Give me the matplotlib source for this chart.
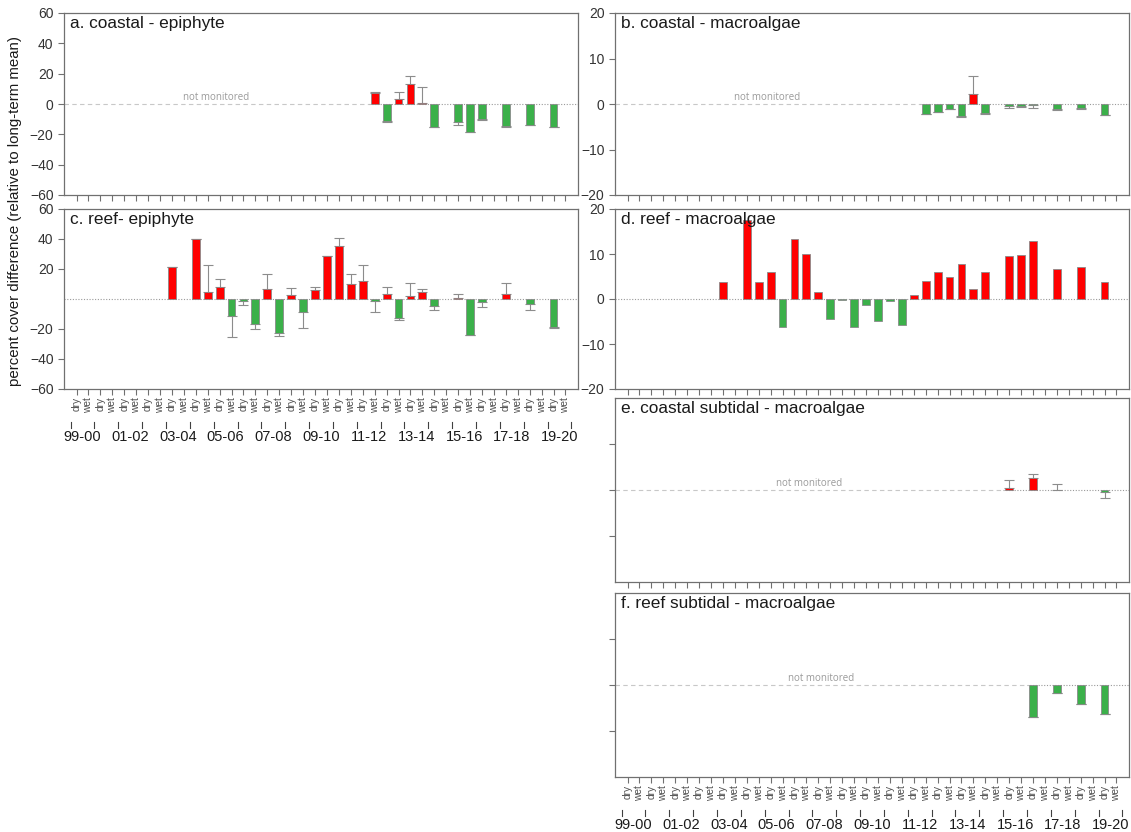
import matplotlib.pyplot as plt
import numpy as np

plt.rcParams['font.family'] = ['Liberation Sans', 'DejaVu Sans']

# categories: 21 years x (dry, wet)
years = ['99-00', '00-01', '01-02', '02-03', '03-04', '04-05', '05-06', '06-07',
         '07-08', '08-09', '09-10', '10-11', '11-12', '12-13', '13-14', '14-15',
         '15-16', '16-17', '17-18', '18-19', '19-20']
seasons = ['dry', 'wet'] * len(years)

# a. coastal - epiphyte
slots_a = [25, 26, 27, 28, 29, 30, 32, 33, 34, 36, 38, 40]
vals_a = [7.2, -11.4, 3.0, 13.3, 0.9, -14.9, -12.0, -18.4, -9.6, -14.7, -13.6, -15.0]
err_a = [0.5, 0.3, 4.6, 5.2, 10.0, 0.3, 1.6, 0.3, 1.1, 0.3, 0.3, 0.3]

# b. coastal - macroalgae
slots_b = [25, 26, 27, 28, 29, 30, 32, 33, 34, 36, 38, 40]
vals_b = [-2.2, -1.7, -1.0, -2.7, 2.25, -2.0, -0.5, -0.4, -0.2, -1.0, -0.9, -2.4]
err_b = [0.1, 0.1, 0.1, 0.1, 3.95, 0.1, 0.3, 0.2, 0.6, 0.4, 0.1, 0.1]

# c. reef - epiphyte
slots_c = [8, 10, 11, 12, 13, 14, 15, 16, 17, 18, 19, 20, 21, 22, 23, 24, 25, 26,
           27, 28, 29, 30, 32, 33, 34, 36, 38, 40]
vals_c = [21.5, 39.8, 4.7, 8.3, -11.4, -1.2, -16.8, 7.0, -22.6, 2.5, -8.5, 6.0,
          28.9, 35.2, 9.9, 11.9, -1.1, 3.6, -12.5, 1.8, 4.6, -4.6, 0.6, -23.7,
          -2.2, 3.6, -3.6, -18.4]
err_c = [0, 0, 17.7, 4.9, 13.6, 2.6, 3.5, 9.4, 1.8, 5.1, 11.0, 2.3, 0, 5.3, 6.7,
         10.9, 7.6, 4.4, 1.6, 9.2, 1.8, 2.7, 3.0, 0.3, 3.0, 7.4, 3.7, 1.2]

# d. reef - macroalgae
slots_d = [8, 10, 11, 12, 13, 14, 15, 16, 17, 18, 19, 20, 21, 22, 23, 24, 25, 26,
           27, 28, 29, 30, 32, 33, 34, 36, 38, 40]
vals_d = [3.7, 17.6, 3.7, 6.1, -6.3, 13.4, 10.1, 1.6, -4.4, -0.3, -6.3, -1.3,
          -4.8, -0.5, -5.7, 1.0, 4.1, 6.0, 4.9, 7.8, 2.3, 6.0, 9.5, 9.8, 13.0,
          6.7, 7.2, 3.8]

# e. coastal subtidal - macroalgae
slots_e = [32, 34, 36, 40]
vals_e = [0.4, 2.6, 0.1, -0.4]
err_e = [1.7, 0.8, 1.1, 1.3]

# f. reef subtidal - macroalgae
slots_f = [34, 36, 38, 40]
vals_f = [-6.9, -1.8, -4.1, -6.4]
err_f = [0, 0, 0, 0]

RED = '#FF0000'
GREEN = '#3BB04A'
SPINE = '#707070'
XLIM = (-1.05, 42.05)

W, H = 1131, 832
fig = plt.figure(figsize=(W / 100, H / 100), dpi=100)


def add_ax(x0, y0, x1, y1):
    ax = fig.add_axes([x0 / W, 1 - y1 / H, (x1 - x0) / W, (y1 - y0) / H])
    ax.hpx = y1 - y0
    return ax


def draw_panel(ax, title, slots, vals, errs, ylim, yticks, ylabels=True, start=None):
    colors = [RED if v > 0 else GREEN for v in vals]
    ax.bar(slots, vals, width=0.66, color=colors, edgecolor='#8a8a8a', linewidth=0.6, zorder=3)
    if errs is not None:
        lo = [e if v < 0 else 0 for v, e in zip(vals, errs)]
        hi = [e if v >= 0 else 0 for v, e in zip(vals, errs)]
        ax.errorbar(slots, vals, yerr=[lo, hi], fmt='none', ecolor='#8c8c8c',
                    elinewidth=0.8, capsize=3.5, capthick=0.8, zorder=2)
    dot = (0, (1, 1.5))
    if start is None:
        ax.plot(XLIM, [0, 0], ls=dot, color='#9a9a9a', lw=0.8, zorder=1)
    else:
        ax.plot([XLIM[0], start - 0.5], [0, 0], ls=(0, (4, 3)), color='#c8c8c8', lw=0.8, zorder=1)
        ax.plot([start - 0.5, XLIM[1]], [0, 0], ls=dot, color='#9a9a9a', lw=0.8, zorder=1)
        ax.annotate('not monitored', xy=((XLIM[0] + start - 0.5) / 2, 0), xytext=(0, 0.8),
                    textcoords='offset points', ha='center', va='bottom',
                    fontsize=7, color='#9a9a9a', family=['Open Sans', 'DejaVu Sans'])
    ax.set_xlim(*XLIM)
    ax.set_ylim(*ylim)
    ax.set_yticks(yticks)
    if not ylabels:
        ax.set_yticklabels([])
    ax.set_xticks(range(len(seasons)))
    ax.set_xticklabels([])
    ax.tick_params(axis='both', direction='out', length=4, width=0.8, color=SPINE,
                   labelsize=10, labelcolor='#333333')
    for s in ax.spines.values():
        s.set_color(SPINE)
        s.set_linewidth(0.9)
    ax.text(0.012, 1 - 3 / ax.hpx, title, transform=ax.transAxes, ha='left', va='top',
            fontsize=12.4, color='#1a1a1a', zorder=6)


def season_axis(ax):
    ax.set_xticklabels(seasons, rotation=90, fontsize=7.3, color='#505050')
    ax.tick_params(axis='x', pad=2)
    tr = ax.get_xaxis_transform()
    h = ax.hpx
    for k in range(len(years) + 1):
        x = 2 * k - 0.5
        ax.plot([x, x], [-33 / h, -39 / h], transform=tr, clip_on=False, color='#404040', lw=0.8)
    for k in range(0, len(years), 2):
        ax.text(2 * k + 0.5, -48 / h, years[k], transform=tr, ha='center', va='center',
                fontsize=10.5, color='#1a1a1a')


ax_a = add_ax(64, 13, 578, 195)
ax_c = add_ax(64, 209, 578, 389)
ax_b = add_ax(615, 13, 1129, 195)
ax_d = add_ax(615, 209, 1129, 389)
ax_e = add_ax(615, 398, 1129, 582)
ax_f = add_ax(615, 593, 1129, 777)

draw_panel(ax_a, 'a. coastal - epiphyte', slots_a, vals_a, err_a, (-60, 60),
           [-60, -40, -20, 0, 20, 40, 60], start=25)
draw_panel(ax_c, 'c. reef- epiphyte', slots_c, vals_c, err_c, (-60, 60),
           [-60, -40, -20, 20, 40, 60])
draw_panel(ax_b, 'b. coastal - macroalgae', slots_b, vals_b, err_b, (-20, 20),
           [-20, -10, 0, 10, 20], start=25)
draw_panel(ax_d, 'd. reef - macroalgae', slots_d, vals_d, None, (-20, 20),
           [-20, -10, 0, 10, 20])
draw_panel(ax_e, 'e. coastal subtidal - macroalgae', slots_e, vals_e, err_e, (-20, 20),
           [-10, 0, 10], ylabels=False, start=32)
draw_panel(ax_f, 'f. reef subtidal - macroalgae', slots_f, vals_f, err_f, (-20, 20),
           [-10, 0, 10], ylabels=False, start=34)

season_axis(ax_c)
season_axis(ax_f)

fig.text(15 / W, 1 - 211 / H, 'percent cover difference (relative to long-term mean)',
         rotation=90, ha='center', va='center', fontsize=10.8, color='#1a1a1a')

fig.savefig('out.png', dpi=100)
